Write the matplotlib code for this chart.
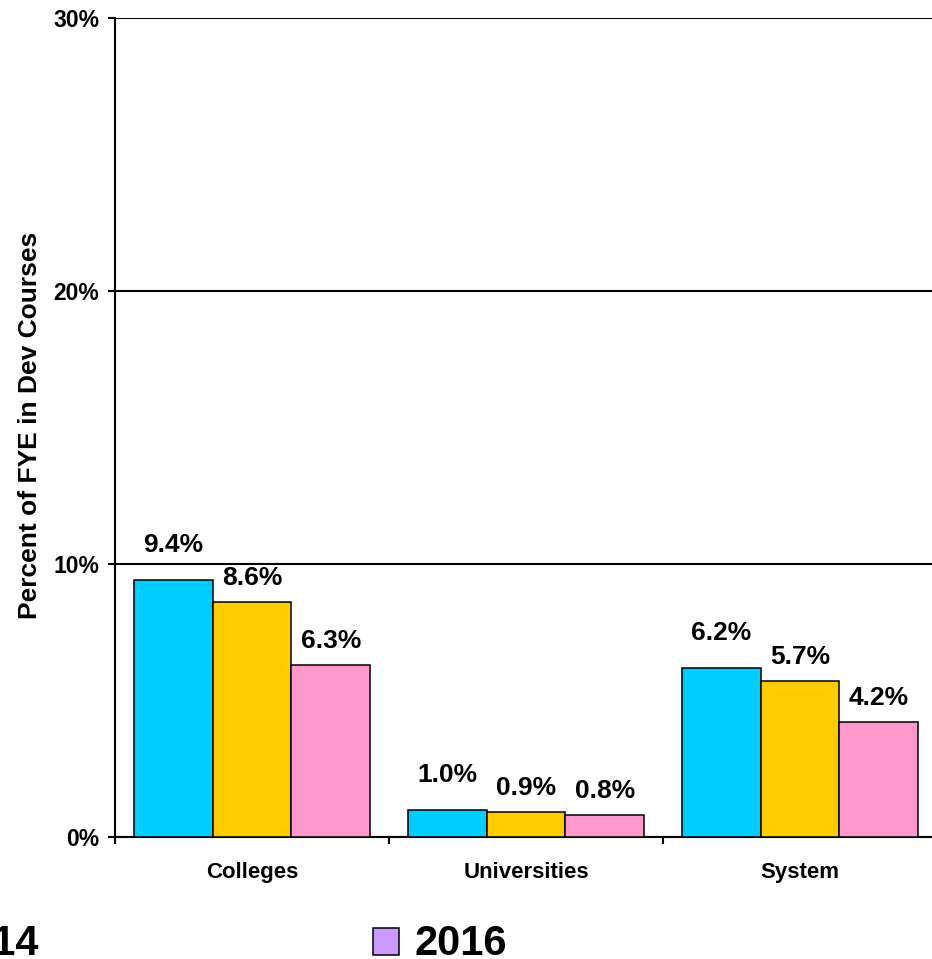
import matplotlib
matplotlib.use("Agg")
import matplotlib.pyplot as plt
from matplotlib.patches import Rectangle
from matplotlib.ticker import FixedLocator, PercentFormatter
import numpy as np

plt.rcParams['font.family'] = ['Liberation Sans', 'DejaVu Sans']
plt.rcParams['font.weight'] = 'bold'

categories = ["Colleges", "Universities", "System"]
years = ["2014", "2015", "2016"]
values_2014 = [9.4, 1.0, 6.2]
values_2015 = [8.6, 0.9, 5.7]
values_2016 = [6.3, 0.8, 4.2]
series = [values_2014, values_2015, values_2016]
bar_colors = ["#00CCFF", "#FFCC00", "#FF99CC"]
label_gap_px = [28, 17, 17]
y_ticks = [0, 10, 20, 30]

W, H = 932, 959
fig = plt.figure(figsize=(W / 100, H / 100), dpi=100)
ax = fig.add_axes([115 / W, 122 / H, 822 / W, 819 / H])

x = np.arange(len(categories))
width = 0.288
for i, (vals, col) in enumerate(zip(series, bar_colors)):
    pos = x + (i - 1) * width
    ax.bar(pos, vals, width, color=col, edgecolor="black", linewidth=1.1,
           zorder=3)
    for px, v in zip(pos, vals):
        ax.annotate(f"{v:.1f}%", (px, v), xytext=(0, label_gap_px[i]),
                    textcoords="offset pixels", ha="center", va="baseline",
                    fontsize=19, fontweight="bold", zorder=4)

ax.set_xlim(-0.5, len(categories) - 0.5)
ax.set_ylim(0, 30)

ax.yaxis.set_major_locator(FixedLocator(y_ticks))
ax.yaxis.set_major_formatter(PercentFormatter(decimals=0))
ax.grid(axis="y", color="black", linewidth=1.5, zorder=0)
ax.tick_params(axis="y", direction="out", length=5, width=1.5, pad=6.5,
               labelsize=16.5)

ax.set_xticks(x)
ax.set_xticklabels(categories, fontsize=16, fontweight="bold")
ax.tick_params(axis="x", which="major", length=0, pad=18)
ax.set_xticks(np.arange(-0.5, len(categories)), minor=True)
ax.tick_params(axis="x", which="minor", direction="out", length=5, width=1.5)

for side in ("top", "right"):
    ax.spines[side].set_visible(False)
for side in ("left", "bottom"):
    ax.spines[side].set_linewidth(1.5)
for lab in ax.get_yticklabels():
    lab.set_fontweight("bold")

fig.text(30 / W, 1 - 425 / H, "Percent of FYE in Dev Courses", rotation=90,
         ha="center", va="center", fontsize=19, fontweight="bold")

# legend row along the bottom edge
fig.text(39 / W, 1 - 955 / H, years[0], ha="right", va="baseline",
         fontsize=30, fontweight="bold")
fig.add_artist(Rectangle((373 / W, 1 - 955 / H), 26 / W, 27 / H,
                         transform=fig.transFigure, facecolor="#CC99FF",
                         edgecolor="black", linewidth=1.1))
fig.text(414 / W, 1 - 955 / H, years[2], ha="left", va="baseline",
         fontsize=30, fontweight="bold")

fig.savefig("out.png", dpi=100)
